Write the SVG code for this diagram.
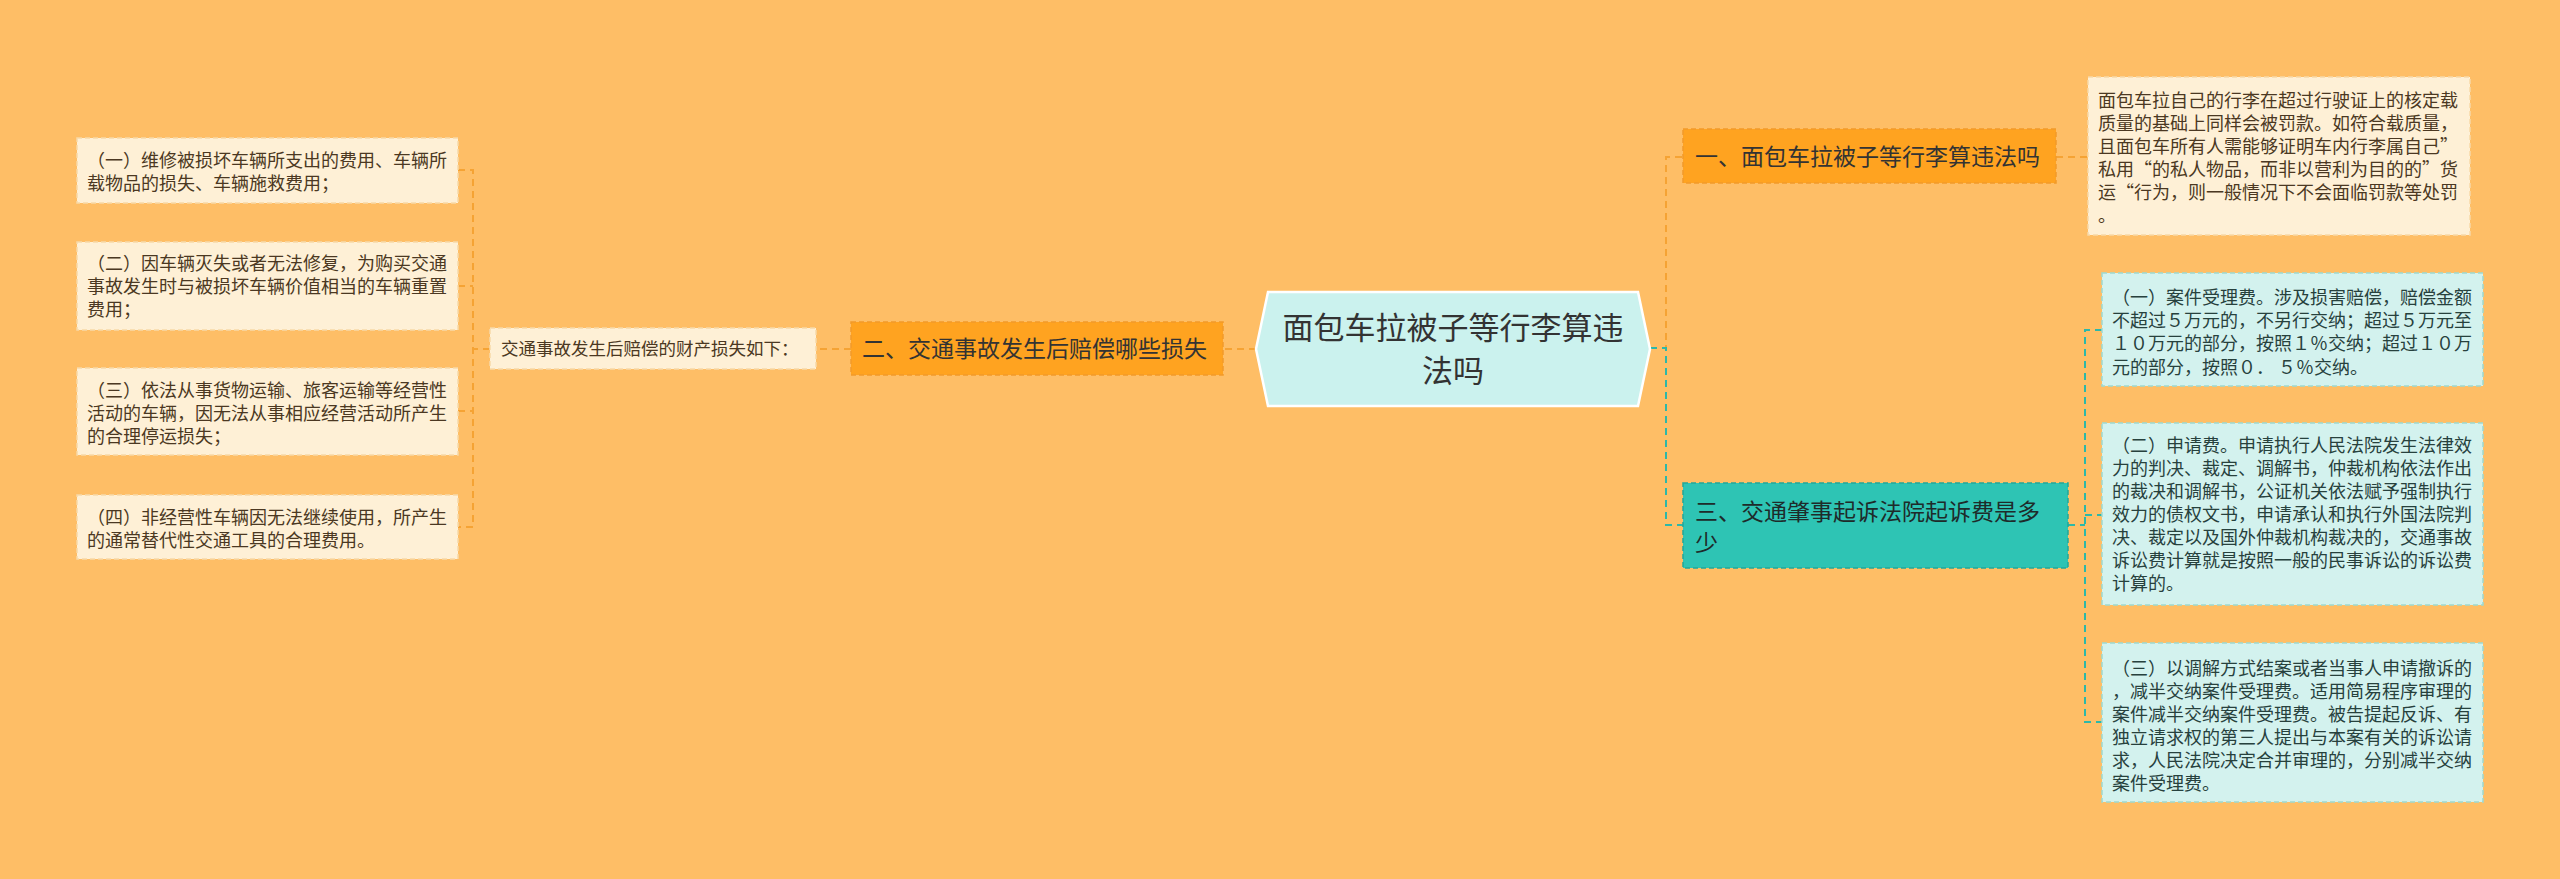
<svg xmlns="http://www.w3.org/2000/svg" width="2560" height="879" viewBox="0 0 2560 879">
<style>
text{font-family:"Noto Sans CJK SC","Noto Sans",sans-serif;}
.bg{fill:#FEBE66;}
.conO{fill:none;stroke:#F5A334;stroke-width:2;stroke-dasharray:7 5;}
.conT{fill:none;stroke:#2DB8A8;stroke-width:2;stroke-dasharray:7 5;}
.main{fill:#FFA320;stroke:#F29A2A;stroke-width:1.5;stroke-dasharray:5 3;}
.mainT{fill:#2EC4B4;stroke:#23A799;stroke-width:1.5;stroke-dasharray:5 3;}
.leafO{fill:#FEF0D6;stroke:#F8D9A8;stroke-width:1.5;stroke-dasharray:5 3;}
.leafT{fill:#D3F2EE;stroke:#9ED9D0;stroke-width:1.5;stroke-dasharray:5 3;}
.tMain{font-size:23px;fill:#333333;}
.tLeafO{font-size:18px;fill:#4B3822;}
.tLeafT{font-size:18px;fill:#27413D;}
.tLab{font-size:17.5px;fill:#4B3822;}
</style>
<rect class="bg" x="0" y="0" width="2560" height="879"/>
<g id="connectors">
<path class="conO" d="M1650,348 H1666 V157 H1683"/>
<path class="conT" d="M1650,348 H1666 V525 H1683"/>
<path class="conO" d="M2056,157 H2088"/>
<path class="conT" d="M2068,525 H2085"/>
<path class="conT" d="M2102,330 H2085 V722 H2102"/>
<path class="conT" d="M2085,515 H2102"/>
<path class="conO" d="M1256,349 H1223"/>
<path class="conO" d="M851,349 H816"/>
<path class="conO" d="M490,349 H473"/>
<path class="conO" d="M458,170 H473 V527 H458"/>
<path class="conO" d="M458,286 H473"/>
<path class="conO" d="M458,411 H473"/>
</g>
<g id="center">
<polygon points="1256,349 1268,292 1638,292 1650,349 1638,406 1268,406" fill="#CBF2EE" stroke="#FFFFFF" stroke-width="2.5"/>
<text x="1453" y="339" text-anchor="middle" style="font-size:31px;fill:#333333">面包车拉被子等行李算违</text>
<text x="1453" y="382" text-anchor="middle" style="font-size:31px;fill:#333333">法吗</text>
</g>
<g id="node1">
<rect class="main" x="1683" y="129" width="373" height="54"/>
<text class="tMain" x="1695" y="165">一、面包车拉被子等行李算违法吗</text>
</g>
<g id="node1-leaf">
<rect class="leafO" x="2088" y="77" width="382" height="158"/>
<text class="tLeafO" x="2098" y="107">面包车拉自己的行李在超过行驶证上的核定载</text>
<text class="tLeafO" x="2098" y="130">质量的基础上同样会被罚款。如符合载质量，</text>
<text class="tLeafO" x="2098" y="153">且面包车所有人需能够证明车内行李属自己”</text>
<text class="tLeafO" x="2098" y="176">私用“的私人物品，而非以营利为目的的”货</text>
<text class="tLeafO" x="2098" y="199">运“行为，则一般情况下不会面临罚款等处罚</text>
<text class="tLeafO" x="2098" y="222">。</text>
</g>
<g id="node3">
<rect class="mainT" x="1683" y="483" width="385" height="85"/>
<text class="tMain" x="1695" y="520" style="fill:#1E2B2A">三、交通肇事起诉法院起诉费是多</text>
<text class="tMain" x="1695" y="551" style="fill:#1E2B2A">少</text>
</g>
<g id="node3-leaf1">
<rect class="leafT" x="2102" y="273" width="381" height="113"/>
<text class="tLeafT" x="2112" y="304">（一）案件受理费。涉及损害赔偿，赔偿金额</text>
<text class="tLeafT" x="2112" y="327">不超过５万元的，不另行交纳；超过５万元至</text>
<text class="tLeafT" x="2112" y="350">１０万元的部分，按照１％交纳；超过１０万</text>
<text class="tLeafT" x="2112" y="374">元的部分，按照０． ５％交纳。</text>
</g>
<g id="node3-leaf2">
<rect class="leafT" x="2102" y="423" width="381" height="182"/>
<text class="tLeafT" x="2112" y="452">（二）申请费。申请执行人民法院发生法律效</text>
<text class="tLeafT" x="2112" y="475">力的判决、裁定、调解书，仲裁机构依法作出</text>
<text class="tLeafT" x="2112" y="498">的裁决和调解书，公证机关依法赋予强制执行</text>
<text class="tLeafT" x="2112" y="521">效力的债权文书，申请承认和执行外国法院判</text>
<text class="tLeafT" x="2112" y="544">决、裁定以及国外仲裁机构裁决的，交通事故</text>
<text class="tLeafT" x="2112" y="567">诉讼费计算就是按照一般的民事诉讼的诉讼费</text>
<text class="tLeafT" x="2112" y="590">计算的。</text>
</g>
<g id="node3-leaf3">
<rect class="leafT" x="2102" y="643" width="381" height="159"/>
<text class="tLeafT" x="2112" y="675">（三）以调解方式结案或者当事人申请撤诉的</text>
<text class="tLeafT" x="2112" y="698">，减半交纳案件受理费。适用简易程序审理的</text>
<text class="tLeafT" x="2112" y="721">案件减半交纳案件受理费。被告提起反诉、有</text>
<text class="tLeafT" x="2112" y="744">独立请求权的第三人提出与本案有关的诉讼请</text>
<text class="tLeafT" x="2112" y="767">求，人民法院决定合并审理的，分别减半交纳</text>
<text class="tLeafT" x="2112" y="790">案件受理费。</text>
</g>
<g id="node2">
<rect class="main" x="851" y="322" width="372" height="53"/>
<text class="tMain" x="862" y="357">二、交通事故发生后赔偿哪些损失</text>
</g>
<g id="node2-label">
<rect class="leafO" x="490" y="328" width="326" height="41"/>
<text class="tLab" x="501" y="355">交通事故发生后赔偿的财产损失如下：</text>
</g>
<g id="node2-leaf1">
<rect class="leafO" x="77" y="138" width="381" height="65"/>
<text class="tLeafO" x="87" y="167">（一）维修被损坏车辆所支出的费用、车辆所</text>
<text class="tLeafO" x="87" y="190">载物品的损失、车辆施救费用；</text>
</g>
<g id="node2-leaf2">
<rect class="leafO" x="77" y="242" width="381" height="88"/>
<text class="tLeafO" x="87" y="270">（二）因车辆灭失或者无法修复，为购买交通</text>
<text class="tLeafO" x="87" y="293">事故发生时与被损坏车辆价值相当的车辆重置</text>
<text class="tLeafO" x="87" y="316">费用；</text>
</g>
<g id="node2-leaf3">
<rect class="leafO" x="77" y="368" width="381" height="87"/>
<text class="tLeafO" x="87" y="397">（三）依法从事货物运输、旅客运输等经营性</text>
<text class="tLeafO" x="87" y="420">活动的车辆，因无法从事相应经营活动所产生</text>
<text class="tLeafO" x="87" y="443">的合理停运损失；</text>
</g>
<g id="node2-leaf4">
<rect class="leafO" x="77" y="495" width="381" height="64"/>
<text class="tLeafO" x="87" y="524">（四）非经营性车辆因无法继续使用，所产生</text>
<text class="tLeafO" x="87" y="547">的通常替代性交通工具的合理费用。</text>
</g>
</svg>
